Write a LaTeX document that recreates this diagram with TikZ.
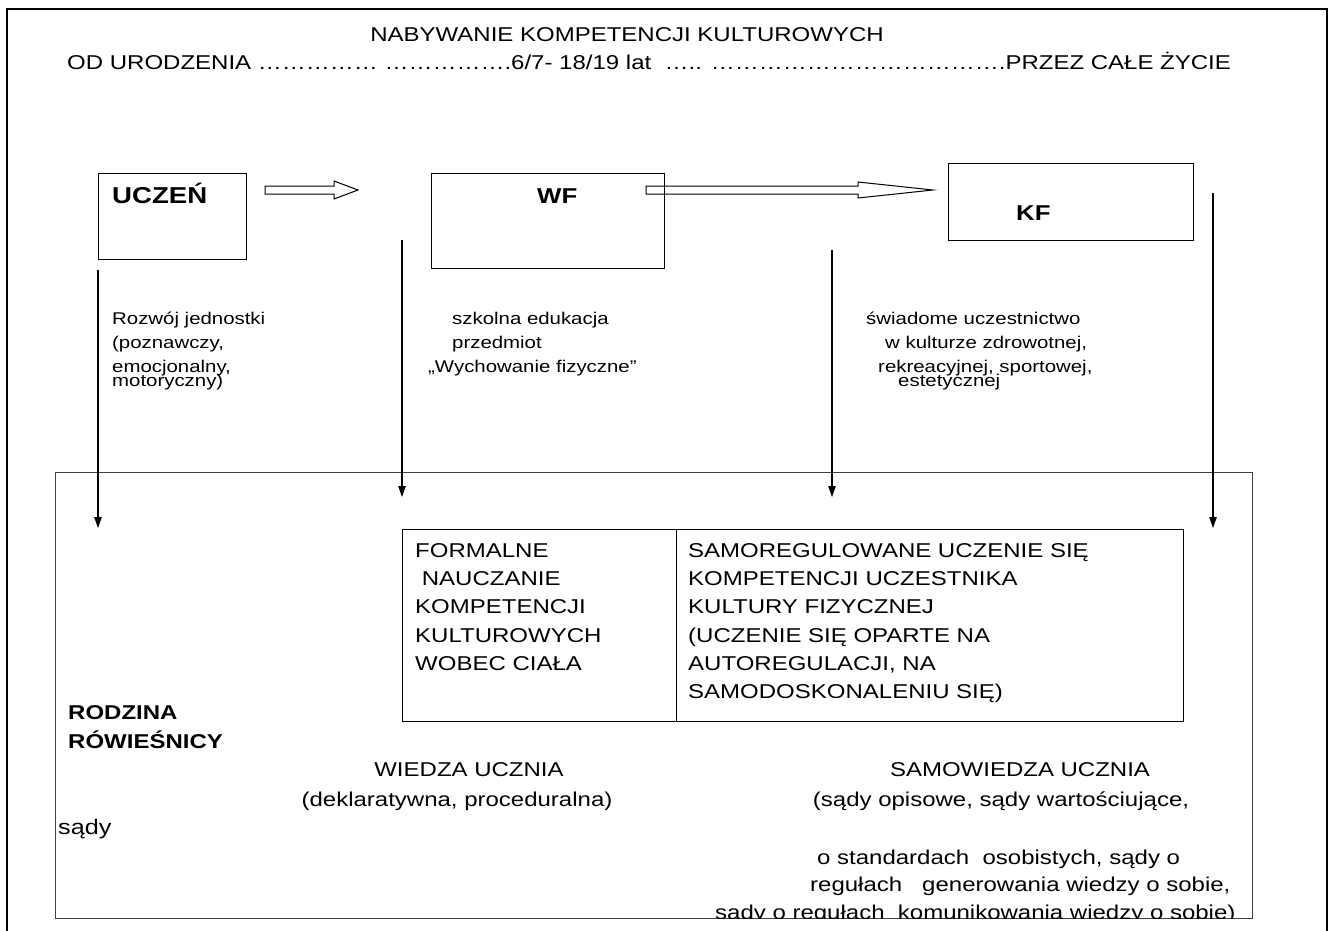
\documentclass[tikz,border=0pt]{standalone}
\usepackage{fontspec}
\setmainfont[FakeStretch=1.2]{Liberation Sans}
\usetikzlibrary{arrows.meta}
\begin{document}
\begin{tikzpicture}[x=1pt,y=-1pt,
  txt/.style={anchor=base west,inner sep=0pt,font=\fontsize{20}{24}\selectfont},
  ctxt/.style={anchor=base,inner sep=0pt,font=\fontsize{20}{24}\selectfont},
  desc/.style={anchor=base west,inner sep=0pt,font=\fontsize{17}{20}\selectfont},
  lbl/.style={anchor=base west,inner sep=0pt,font=\fontsize{21.5}{25}\selectfont\bfseries},
  box/.style={draw,line width=1.3pt,anchor=north west,inner sep=0pt},
  darr/.style={line width=1.1pt,-{Triangle[length=11pt,width=7.5pt]}},
  hollow/.style={draw,line width=1pt},
]
\useasboundingbox (0,0) rectangle (1331,931);
% outer frame
\draw[line width=2.6pt] (7,931) -- (7,9) -- (1327,9) -- (1327,931);
% header
\node[ctxt] (title) at (627,42) {NABYWANIE KOMPETENCJI KULTUROWYCH};
\node[txt] (time) at (67,70) {OD URODZENIA …………… …………….6/7- 18/19 lat \ ….. ……………………………….PRZEZ CAŁE ŻYCIE};
% top boxes
\node[box,minimum width=148pt,minimum height=86pt] (uczen) at (98,173) {};
\node[box,minimum width=233pt,minimum height=95pt] (wf) at (431,173) {};
\node[box,minimum width=245pt,minimum height=77pt] (kf) at (948,163) {};
\node[lbl,font=\fontsize{23}{27}\selectfont\bfseries] (tu) at (112,204) {UCZEŃ};
\node[lbl] (tw) at (537,204) {WF};
\node[lbl] (tk) at (1016,220) {KF};
% hollow arrows
\draw[hollow] (265,186) -- (334,186) -- (334,181) -- (358,190) -- (334,199) -- (334,194) -- (265,194) -- cycle;
\draw[hollow] (646,186) -- (858,186) -- (858,182) -- (933,190) -- (858,198) -- (858,194) -- (646,194) -- cycle;
% descriptions
\node[desc] (d1a) at (112,324) {Rozwój jednostki};
\node[desc] (d1b) at (112,348) {(poznawczy,};
\node[desc] (d1c) at (112,372) {emocjonalny,};
\node[desc] (d1d) at (112,386) {motoryczny)};
\node[desc] (d2a) at (452,324) {szkolna edukacja};
\node[desc] (d2b) at (452,348) {przedmiot};
\node[desc] (d2c) at (428,372) {„Wychowanie fizyczne”};
\node[desc] (d3a) at (866,324) {świadome uczestnictwo};
\node[desc] (d3b) at (885,348) {w kulturze zdrowotnej,};
\node[desc] (d3c) at (878,372) {rekreacyjnej, sportowej,};
\node[desc] (d3d) at (898,386) {estetycznej};
% inner box
\node[draw=black!75,line width=1pt,anchor=north west,inner sep=0pt,minimum width=1197pt,minimum height=446pt] (inner) at (55,472) {};
% vertical arrows
\coordinate (a1s) at (98,270);  \coordinate (a1e) at (98,528);
\coordinate (a2s) at (402,240); \coordinate (a2e) at (402,497);
\coordinate (a3s) at (832,250); \coordinate (a3e) at (832,497);
\coordinate (a4s) at (1213,193);\coordinate (a4e) at (1213,528);
\draw[darr] (a1s) -- (a1e);
\draw[darr] (a2s) -- (a2e);
\draw[darr] (a3s) -- (a3e);
\draw[darr] (a4s) -- (a4e);
% table
\node[box,minimum width=274pt,minimum height=192pt] (cellL) at (402,529) {};
\node[box,minimum width=507pt,minimum height=192pt] (cellR) at (676,529) {};
\node[txt] (l1) at (415,557) {FORMALNE};
\node[txt] (l2) at (415,585) {\ NAUCZANIE};
\node[txt] (l3) at (415,613) {KOMPETENCJI};
\node[txt] (l4) at (415,642) {KULTUROWYCH};
\node[txt] (l5) at (415,670) {WOBEC CIAŁA};
\node[txt] (r1) at (688,557) {SAMOREGULOWANE UCZENIE SIĘ};
\node[txt] (r2) at (688,585) {KOMPETENCJI UCZESTNIKA};
\node[txt] (r3) at (688,613) {KULTURY FIZYCZNEJ};
\node[txt] (r4) at (688,642) {(UCZENIE SIĘ OPARTE NA};
\node[txt] (r5) at (688,670) {AUTOREGULACJI, NA};
\node[txt] (r6) at (688,698) {SAMODOSKONALENIU SIĘ)};
% bottom texts
\node[lbl,font=\fontsize{20}{24}\selectfont\bfseries] (rod) at (68,719) {RODZINA};
\node[lbl,font=\fontsize{20}{24}\selectfont\bfseries] (row) at (68,748) {RÓWIEŚNICY};
\node[ctxt] (wu) at (469,776) {WIEDZA UCZNIA};
\node[ctxt] (wd) at (457,806) {(deklaratywna, proceduralna)};
\node[txt,font=\fontsize{21}{24}\selectfont] (sd) at (58,834) {sądy};
\node[ctxt] (su) at (1020,776) {SAMOWIEDZA UCZNIA};
\node[ctxt] (s1) at (1001,806) {(sądy opisowe, sądy wartościujące,};
\node[txt] (s2) at (817,864) {o standardach \ osobistych, sądy o};
\node[txt] (s3) at (810,891) {regułach \ \ generowania wiedzy o sobie,};
\begin{scope}
\clip (55,472) rectangle (1252,918);
\node[txt] (s4) at (715,919) {sądy o regułach \ komunikowania wiedzy o sobie)};
\end{scope}
\end{tikzpicture}
\end{document}
